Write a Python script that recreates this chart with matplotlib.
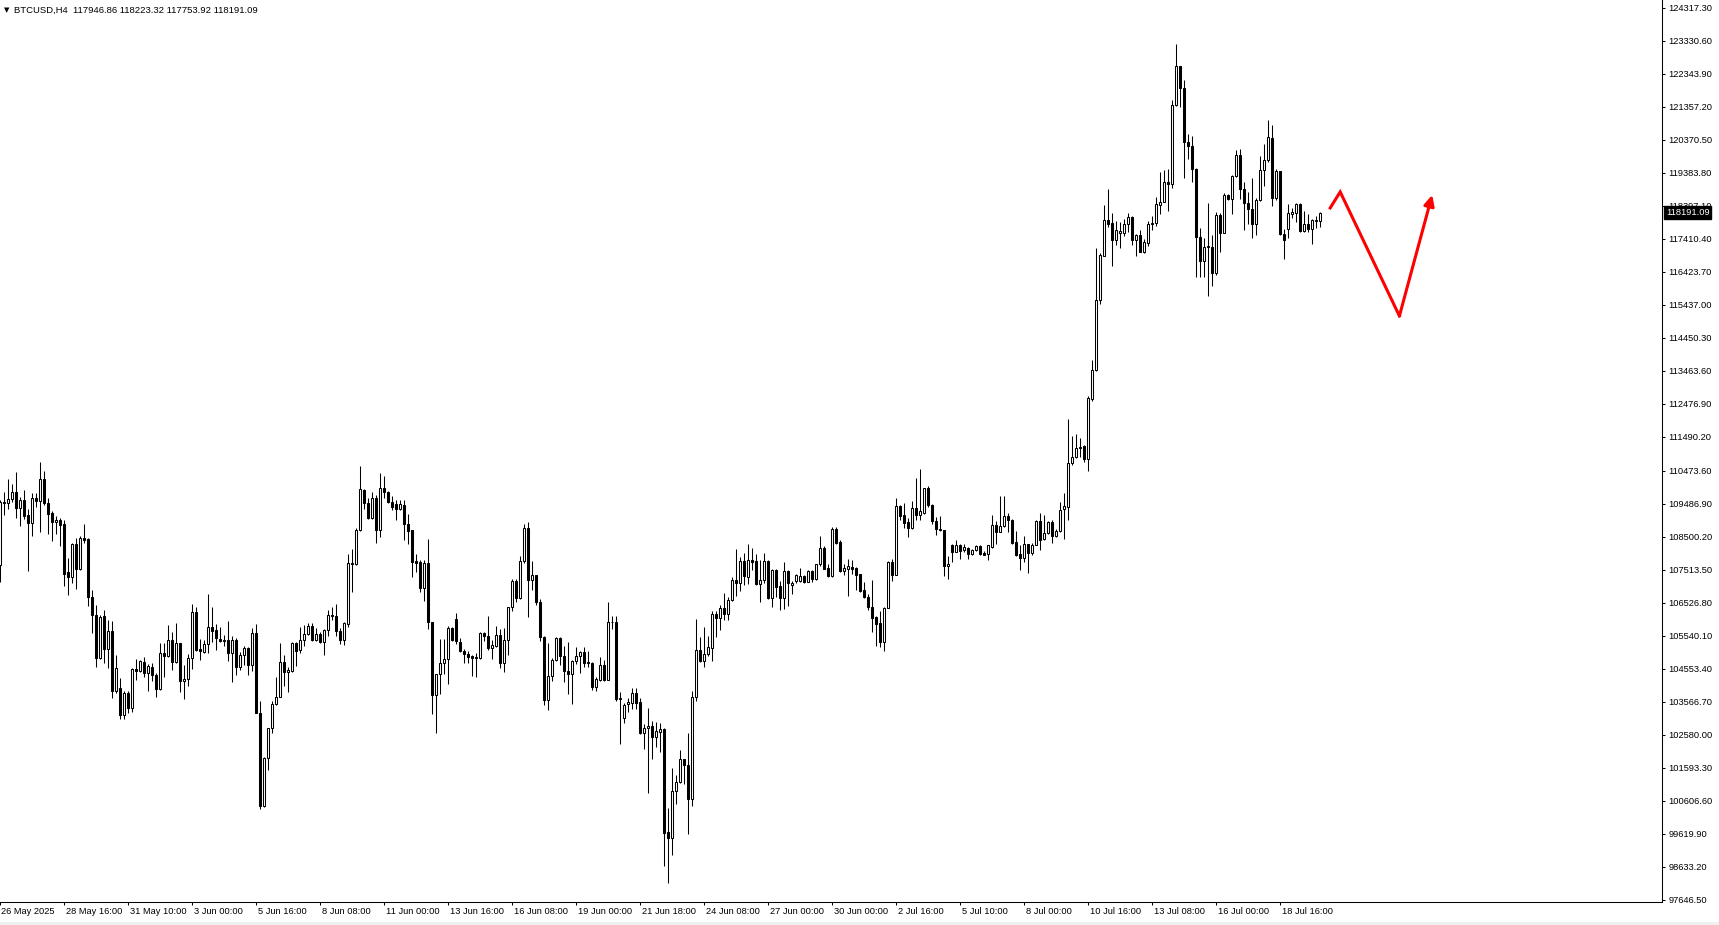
import matplotlib
matplotlib.use('Agg')
import matplotlib.pyplot as plt
import numpy as np
from matplotlib.patches import Rectangle

plt.rcParams['font.family'] = ['Liberation Sans', 'DejaVu Sans']

# BTCUSD H4 candles (bar 0 = 26 May 2025 00:00)
opens = [107662, 109542, 109512, 109622, 109822, 109372, 109592, 109142, 108912, 109672,
         109572, 110212, 109522, 109212, 108942, 109012, 108872, 107432, 107292, 108272,
         107532, 108472, 108422, 106712, 106172, 104862, 106142, 105132, 105692, 103872,
         103972, 103162, 103822, 103392, 104542, 104472, 104762, 104412, 104612, 104372,
         103942, 105032, 104932, 105422, 104742, 105332, 104172, 104242, 104872, 106252,
         105142, 105042, 105292, 105812, 105722, 105442, 105422, 105422, 105012, 105422,
         104592, 104972, 105172, 104662, 105622, 103242, 100462, 101872, 102772, 103492,
         103722, 104762, 104442, 104492, 105312, 105112, 105412, 105592, 105842, 105422,
         105592, 105342, 105722, 106172, 106142, 105692, 105422, 105892, 107722, 107672,
         108692, 109892, 109522, 109062, 109672, 108712, 109942, 109822, 109542, 109472,
         109342, 109442, 108892, 108692, 107762, 107742, 106972, 107722, 105962, 103762,
         104392, 104712, 104842, 105772, 106042, 105362, 105092, 104992, 104922, 104892,
         104862, 105622, 105542, 105172, 105242, 105572, 104712, 105422, 106392, 107162,
         106662, 107762, 108772, 107212, 107342, 106562, 105492, 103612, 104342, 104812,
         105462, 104942, 104492, 104392, 104792, 104922, 105062, 104712, 104722, 103992,
         104222, 104662, 104222, 105942, 105962, 103662, 103072, 103492, 103542, 103822,
         103562, 102622, 102772, 102842, 102522, 102672, 102742, 99662, 99492, 100892,
         101162, 101842, 101662, 100662, 103712, 105122, 104792, 104992, 105172, 106192,
         106062, 106372, 106192, 106622, 107212, 107122, 107762, 107292, 107812, 107762,
         107092, 107192, 107762, 106662, 107492, 107012, 106662, 107462, 107062, 107172,
         107172, 107312, 107142, 107462, 107242, 107672, 108172, 107562, 107312, 108722,
         108342, 107462, 107542, 107592, 107572, 107372, 106892, 106712, 106412, 106092,
         105912, 105342, 106372, 107742, 107362, 109412, 109142, 108942, 108762, 109372,
         109162, 109212, 109942, 109462, 108972, 108742, 108712, 107622, 108242, 108042,
         108262, 108092, 108172, 107972, 108092, 108212, 108012, 107992, 108192, 108842,
         108642, 108812, 109112, 109012, 108342, 107972, 107862, 108292, 108012, 108262,
         108962, 108422, 108622, 108942, 108532, 108662, 109332, 109392, 110692, 110892,
         111142, 111212, 110822, 112622, 113472, 115572, 116892, 117972, 117872, 117372,
         117592, 117592, 117842, 118072, 117372, 117512, 117022, 117292, 117862, 117892,
         118412, 118522, 119092, 119042, 121412, 122572, 121912, 120292, 120172, 119492,
         117472, 116742, 117162, 117172, 116392, 118112, 117592, 118712, 118612, 119292,
         119922, 118892, 118492, 118312, 117862, 118562, 119462, 119762, 120412, 118642,
         119422, 117542, 117712, 118162, 118192, 118442, 117642, 117862, 117712, 117942,
         117946.86]

highs = [109592, 109842, 110212, 110072, 110422, 109692, 109892, 109342, 109812, 109812,
         110722, 110462, 109672, 109262, 109112, 109062, 108992, 107862, 108312, 108472,
         108522, 108892, 108472, 106892, 106472, 106172, 106322, 106012, 105992, 104972,
         104272, 103892, 103872, 104572, 104842, 104812, 104912, 104692, 104712, 104412,
         105312, 105312, 105872, 105662, 105922, 105332, 104672, 104992, 106492, 106392,
         105442, 105412, 106792, 106412, 105892, 105812, 105572, 105992, 105522, 105472,
         105042, 105242, 105192, 105772, 105892, 103592, 101912, 102792, 103592, 104312,
         105322, 104972, 104612, 105342, 105362, 105792, 105872, 105912, 105912, 105772,
         105642, 105742, 106322, 106412, 106492, 105762, 105942, 107972, 108122, 108772,
         110622, 109912, 109672, 109842, 109742, 110392, 110312, 109862, 109712, 109592,
         109592, 109592, 109192, 108692, 107992, 107792, 107792, 108442, 105962, 104392,
         105442, 105442, 105842, 105792, 106222, 105462, 105142, 105092, 104972, 105012,
         105662, 105642, 106142, 105422, 105842, 105742, 105772, 106412, 107242, 107242,
         107922, 108892, 108942, 107762, 107342, 106642, 105542, 105322, 104872, 105512,
         105512, 105222, 105342, 104822, 105212, 105092, 105212, 105072, 104742, 104312,
         104912, 104812, 106542, 106142, 106142, 103842, 103522, 103692, 103972, 103962,
         103692, 102912, 103392, 102992, 102972, 102922, 102792, 100392, 101592, 101372,
         102122, 101862, 102642, 103892, 106042, 105492, 105812, 105542, 106272, 106272,
         106472, 106812, 106712, 107292, 108122, 107892, 108012, 108272, 108172, 107992,
         107792, 108012, 107792, 107542, 107542, 107172, 107742, 107492, 107172, 107392,
         107562, 107342, 107492, 107492, 107692, 108512, 108212, 107692, 108792, 108792,
         108392, 107692, 107842, 107812, 107592, 107392, 107142, 106772, 107192, 106142,
         106292, 106392, 107762, 107842, 109662, 109442, 109522, 109072, 109562, 110242,
         110522, 109962, 110012, 109492, 109092, 109112, 108712, 107912, 108292, 108412,
         108272, 108292, 108192, 108142, 108262, 108262, 108072, 108262, 109142, 108972,
         109712, 109712, 109212, 109042, 108662, 108262, 108512, 108292, 108312, 109012,
         109212, 109142, 108972, 108992, 108742, 109542, 109792, 112012, 111512, 111572,
         111442, 111242, 112712, 113792, 117122, 116972, 118412, 118892, 118172, 117942,
         117912, 118012, 118192, 118092, 117542, 117662, 117412, 117942, 118092, 118662,
         119392, 119472, 119492, 121562, 123242, 122572, 122142, 120542, 120472, 119512,
         117742, 117442, 118492, 117512, 118212, 118192, 118762, 118742, 119312, 120062,
         120092, 119092, 118792, 119222, 118642, 119892, 120242, 120972, 120812, 119492,
         119442, 117712, 118442, 118342, 118492, 118472, 118242, 118142, 117992, 118092,
         118223.32]

lows = [107142, 109162, 109342, 109542, 109062, 108812, 109022, 107472, 108522, 109392,
        108642, 109442, 108592, 108372, 108592, 108222, 107022, 106762, 107112, 106942,
        107492, 108312, 106422, 105612, 104592, 104842, 104712, 104562, 103672, 103812,
        103062, 103062, 103242, 103272, 104222, 104442, 104292, 103892, 104172, 103712,
        103922, 104312, 104892, 104522, 104722, 103842, 103642, 104022, 104542, 105092,
        104822, 105022, 105022, 105342, 105112, 105362, 105222, 104772, 104142, 104372,
        104522, 104672, 104362, 104472, 103222, 100362, 100412, 101512, 102642, 103472,
        103712, 104022, 103842, 104442, 104642, 105012, 105242, 105572, 105392, 105372,
        105322, 104962, 105522, 106012, 105522, 105292, 105272, 105792, 106842, 107642,
        108672, 109342, 109042, 109042, 108312, 108492, 109672, 109512, 109312, 109012,
        109312, 108412, 108292, 107292, 107442, 106842, 106572, 105742, 103192, 102642,
        103792, 104392, 104092, 105392, 105292, 105042, 104722, 104712, 104322, 104292,
        104842, 105392, 105112, 104842, 105192, 104562, 104462, 104962, 106272, 106542,
        106642, 107722, 106092, 106892, 106462, 105392, 103472, 103322, 104172, 104792,
        104672, 104142, 103792, 103492, 104692, 104412, 104592, 104592, 103912, 103892,
        104192, 104192, 104212, 105742, 103592, 102312, 102942, 103272, 103342, 103362,
        102612, 102162, 100842, 101842, 102222, 102062, 98662, 98142, 98992, 100512,
        101142, 101092, 99612, 100462, 103592, 104742, 104592, 104942, 104772, 105512,
        105712, 106012, 106012, 106592, 106722, 106872, 107042, 107092, 107512, 107042,
        106542, 107122, 106642, 106392, 106712, 106322, 106342, 106422, 106772, 107112,
        107142, 107112, 107132, 107142, 107192, 107612, 107522, 107292, 107292, 108272,
        107442, 107342, 106722, 107372, 106892, 106842, 106682, 106322, 105662, 105242,
        105212, 105072, 106362, 107172, 107342, 109012, 108762, 108492, 108742, 109012,
        109012, 109172, 109392, 108892, 108542, 108672, 107322, 107242, 107742, 108032,
        107842, 108042, 107842, 107942, 108072, 107942, 107942, 107792, 108172, 108272,
        108632, 108792, 108642, 108292, 107912, 107492, 107742, 107412, 107942, 108242,
        108092, 108412, 108592, 108312, 108492, 108642, 108442, 108992, 110642, 110842,
        110892, 110742, 110472, 112562, 113462, 115472, 116882, 117772, 116592, 117222,
        117142, 117492, 117612, 117222, 116892, 117012, 116972, 117192, 117662, 117792,
        118142, 118512, 118242, 118912, 121392, 121342, 119212, 119792, 119092, 116272,
        116272, 116272, 115692, 115992, 116312, 117022, 117582, 118572, 118162, 119262,
        118592, 117672, 117842, 117442, 117512, 118542, 118992, 119712, 118392, 118572,
        117512, 116812, 117442, 118022, 117912, 117612, 117612, 117612, 117262, 117722,
        117753.92]

closes = [109542, 109512, 109642, 109822, 109372, 109592, 109122, 108912, 109672, 109572,
          110212, 109512, 109192, 108942, 109012, 108862, 107392, 107292, 108272, 107532,
          108472, 108412, 106692, 106162, 104862, 106112, 105132, 105692, 103872, 104572,
          103162, 103822, 103372, 104542, 104472, 104792, 104412, 104642, 104362, 103942,
          105032, 104932, 105422, 104742, 105322, 104172, 104242, 104872, 106252, 105122,
          105072, 105292, 105812, 105692, 105472, 105372, 105372, 105012, 105422, 104592,
          104972, 105172, 104662, 105622, 103242, 100462, 101892, 102772, 103492, 103722,
          104762, 104442, 104522, 105312, 105092, 105412, 105592, 105842, 105422, 105592,
          105342, 105722, 106172, 106122, 105672, 105422, 105912, 107722, 107672, 108692,
          109912, 109522, 109062, 109672, 108712, 109942, 109822, 109542, 109392, 109342,
          109492, 108892, 108672, 107742, 107712, 106972, 107722, 105962, 103762, 104392,
          104712, 104842, 105772, 105412, 105372, 105072, 104992, 104892, 104872, 104872,
          105622, 105522, 105172, 105262, 105572, 104712, 105422, 106392, 107162, 106662,
          107762, 108772, 107212, 107342, 106542, 105492, 103612, 104342, 104812, 105462,
          104922, 104472, 104392, 104792, 104942, 105062, 104712, 104742, 103992, 104242,
          104662, 104222, 105962, 105962, 103642, 103682, 103462, 103562, 103822, 103542,
          102622, 102772, 102842, 102522, 102692, 102742, 99642, 99492, 100892, 101162,
          101842, 101662, 100662, 103712, 105122, 104792, 104992, 105192, 106192, 106062,
          106372, 106192, 106622, 107212, 107122, 107762, 107312, 107812, 107742, 107092,
          107192, 107762, 106662, 107492, 106992, 106662, 107462, 107112, 107112, 107342,
          107312, 107142, 107472, 107242, 107672, 108172, 107542, 107312, 108722, 108312,
          107462, 107572, 107612, 107542, 107362, 106862, 106692, 106392, 106062, 105892,
          105342, 106372, 107742, 107362, 109412, 109112, 108912, 108762, 109372, 109162,
          109262, 109942, 109462, 108972, 108722, 108692, 107622, 107692, 108042, 108242,
          108072, 108192, 107992, 108092, 108212, 107972, 107962, 108242, 108842, 108642,
          108812, 109112, 109012, 108312, 107962, 107862, 108292, 108012, 108262, 108962,
          108412, 108622, 108942, 108532, 108662, 109312, 109412, 110692, 110892, 111142,
          111192, 110822, 112642, 113472, 115572, 116912, 117972, 117862, 117372, 117662,
          117642, 117842, 118062, 117372, 117512, 117022, 117312, 117862, 117892, 118442,
          118522, 119092, 119042, 121412, 122572, 121912, 120292, 120172, 119492, 117472,
          116742, 117172, 117182, 116392, 118112, 117592, 118712, 118612, 119292, 119922,
          118892, 118492, 118312, 117862, 118562, 119462, 119762, 120442, 118642, 119422,
          117542, 117372, 118192, 118212, 118462, 117642, 117862, 117712, 117962, 117962,
          118191.09]

price_labels = ['124317.30', '123330.60', '122343.90', '121357.20', '120370.50', '119383.80',
                '118397.10', '117410.40', '116423.70', '115437.00', '114450.30', '113463.60',
                '112476.90', '111490.20', '110473.60', '109486.90', '108500.20', '107513.50',
                '106526.80', '105540.10', '104553.40', '103566.70', '102580.00', '101593.30',
                '100606.60', '99619.90', '98633.20', '97646.50']

date_labels = ['26 May 2025', '28 May 16:00', '31 May 10:00', '3 Jun 00:00', '5 Jun 16:00',
               '8 Jun 08:00', '11 Jun 00:00', '13 Jun 16:00', '16 Jun 08:00', '19 Jun 00:00',
               '21 Jun 18:00', '24 Jun 08:00', '27 Jun 00:00', '30 Jun 00:00', '2 Jul 16:00',
               '5 Jul 10:00', '8 Jul 00:00', '10 Jul 16:00', '13 Jul 08:00', '16 Jul 00:00',
               '18 Jul 16:00']
date_bars = [0, 16, 32, 48, 64, 80, 96, 112, 128, 144, 160, 176, 192, 208, 224,
             240, 256, 272, 288, 304, 320]

# hand-drawn red forecast arrow (bar index, price)
arrow_bars = [332.5, 335.0, 349.8, 358.0]
arrow_prices = [118330, 118810, 115100, 118720]

last_price = 118191.09

assert len(opens) == len(highs) == len(lows) == len(closes), (len(opens), len(highs), len(lows), len(closes))

W, H = 1719, 925
fig = plt.figure(figsize=(W / 100, H / 100), dpi=100)
fig.patch.set_facecolor('white')
ax = fig.add_axes([0, 23 / H, 1662 / W, 902 / H])

o = np.array(opens, dtype=float)
h = np.array(highs, dtype=float)
l = np.array(lows, dtype=float)
c = np.array(closes, dtype=float)
x = np.arange(len(o))
up = c >= o
lo = np.minimum(o, c)
ht = np.abs(c - o)

ax.vlines(x, l, h, color='black', lw=0.75, zorder=2)
ax.bar(x[up], ht[up], bottom=lo[up], width=0.5, facecolor='white',
       edgecolor='black', lw=0.75, zorder=3)
ax.bar(x[~up], ht[~up], bottom=lo[~up], width=0.5, facecolor='black',
       edgecolor='black', lw=0.75, zorder=3)

# forecast arrow
ax.plot(arrow_bars[:3], arrow_prices[:3], color='#ff0000', lw=2.2,
        solid_joinstyle='miter', zorder=5)
ax.annotate('', xy=(arrow_bars[3], arrow_prices[3]), xytext=(arrow_bars[2], arrow_prices[2]),
            arrowprops=dict(arrowstyle='-|>,head_length=0.45,head_width=0.22', color='#ff0000',
                            lw=2.2, shrinkA=0, shrinkB=0, mutation_scale=14), zorder=5)

ax.set_xlim(-0.05, -0.05 + 1662 / 4)
ax.set_ylim(97577.7, 124547.5)

for s in ['top', 'left']:
    ax.spines[s].set_visible(False)
for s in ['right', 'bottom']:
    ax.spines[s].set_linewidth(0.75)

# price scale
ax.yaxis.tick_right()
ax.set_yticks([float(v) for v in price_labels])
ax.set_yticklabels(price_labels)
ax.tick_params(axis='y', direction='out', length=2.2, width=0.75, pad=2.6, labelsize=6.7)

# time scale
ax.set_xticks(date_bars)
ax.set_xticklabels([])
ax.tick_params(axis='x', direction='out', length=2.2, width=0.75)
xt = ax.get_xaxis_transform()
for i, (b, lab) in enumerate(zip(date_bars, date_labels)):
    shift = 0.35 if i > 0 else 0.2
    ax.text(b + shift, -5 / 902, lab, transform=xt, ha='left', va='top',
            fontsize=6.7, clip_on=False)

# current price box
ax.text(1 + 4 / 1662, last_price, f'{last_price:.2f}', transform=ax.get_yaxis_transform(),
        ha='left', va='center', color='white', fontsize=6.7, zorder=10, clip_on=False,
        bbox=dict(boxstyle='square,pad=0.2', fc='black', ec='black'))

# header
fig.text(4 / W, 1 - 10 / H, '\u25bc', fontsize=5, va='center', ha='left',
         family='DejaVu Sans')
fig.text(14 / W, 1 - 10 / H, 'BTCUSD,H4  117946.86 118223.32 117753.92 118191.09',
         fontsize=6.8, va='center', ha='left')

fig.add_artist(Rectangle((0, 0), 1, 3 / H, transform=fig.transFigure,
                         facecolor='#f0f0f0', edgecolor='none'))

fig.savefig('out.png', dpi=100)
